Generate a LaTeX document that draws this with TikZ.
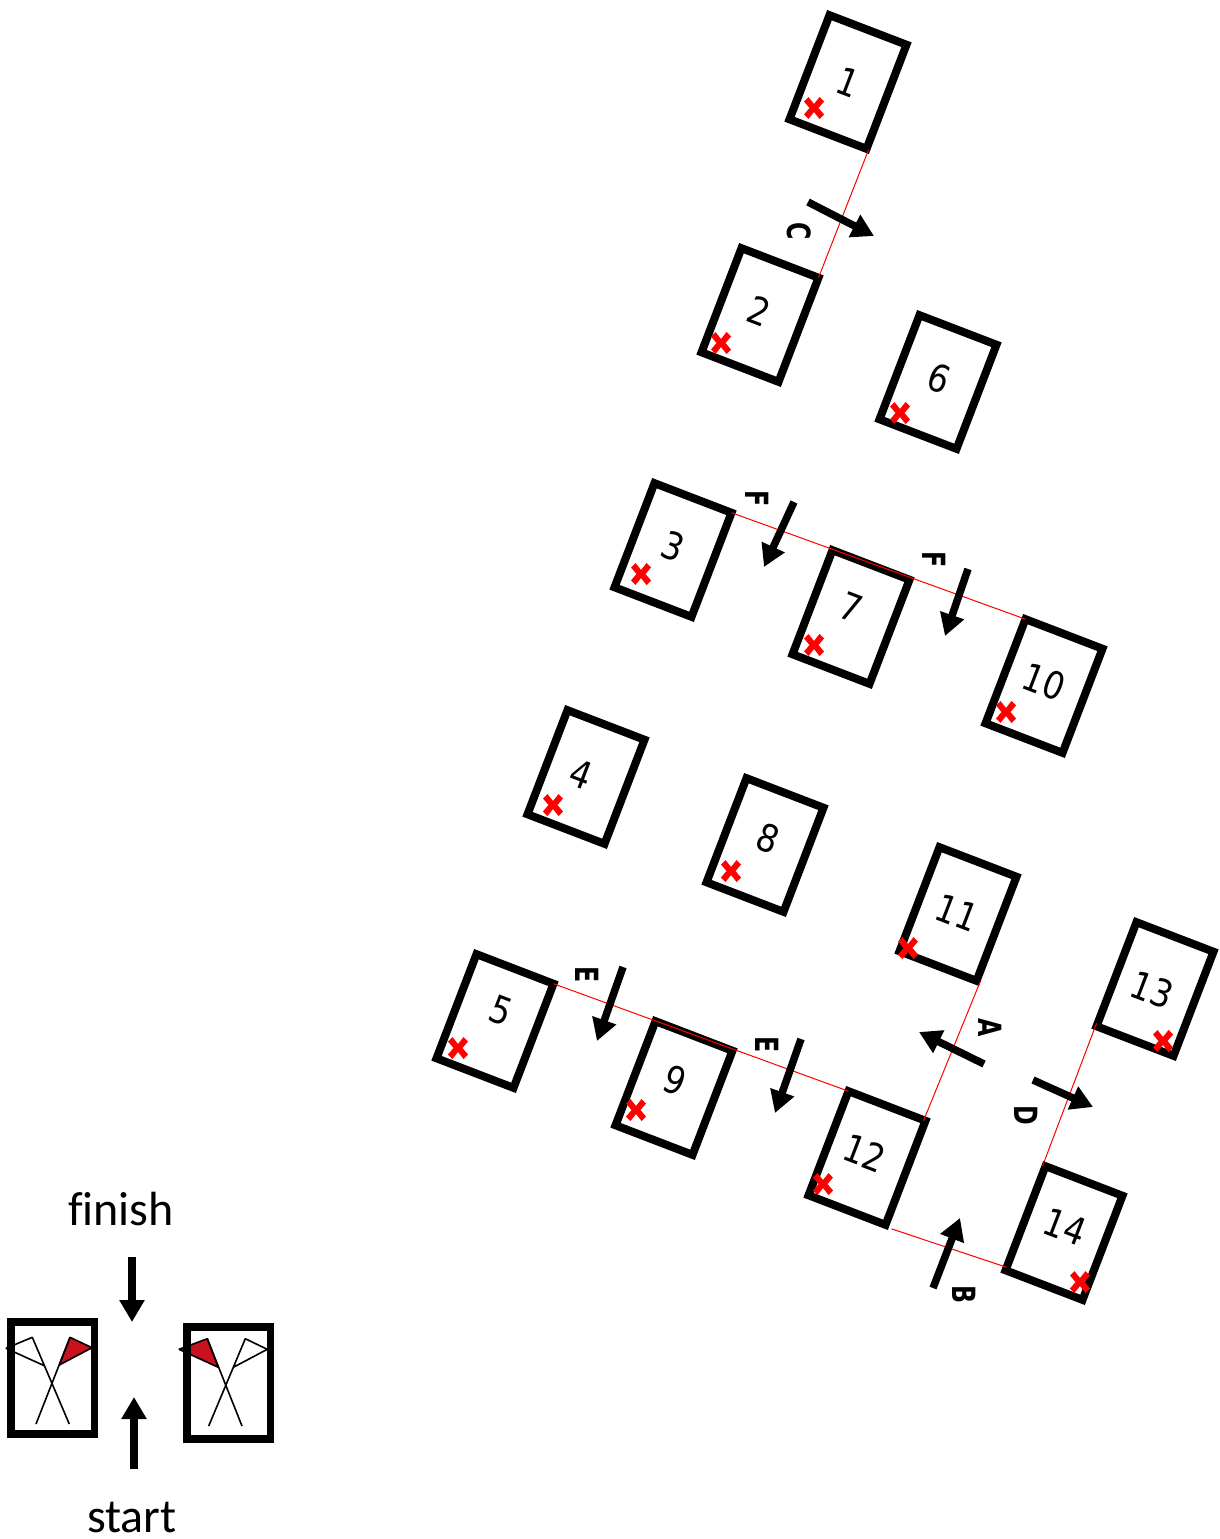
\documentclass[tikz,border=0pt]{standalone}
\usepackage{fontspec}
\setmainfont{DejaVu Sans}
\newfontfamily\capfont{Carlito}
\usetikzlibrary{arrows.meta}
\definecolor{flagred}{RGB}{200,18,30}
\tikzset{
  rbox/.style={draw=black,line width=8pt,rectangle,minimum width=82.5pt,minimum height=111.5pt,inner sep=0pt,outer sep=0pt,rotate=-21},
  digit/.style={inner sep=0pt,rotate=-21,font=\fontsize{38}{38}\selectfont,text=black},
  plainbox/.style={draw=black,line width=7.5pt,rectangle,minimum width=83.5pt,minimum height=112pt,inner sep=0pt,outer sep=0pt},
  redline/.style={draw=red,line width=1pt},
  bigarrow/.style={draw=black,line width=7.5pt,-{Triangle[length=22pt,width=24pt]}},
  letter/.style={inner sep=0pt,font=\fontsize{32}{32}\selectfont\bfseries,rotate=-90},
  caption/.style={inner sep=0pt,font=\capfont\fontsize{48}{48}\selectfont},
  xmark/.style={fill=red,draw=none},
  pole/.style={draw=black,line width=1.6pt,line join=bevel},
}
\newcommand{\redx}[1]{\fill[xmark,shift={#1}] (-10,-6.5) -- (-5.5,-11) -- (0,-4) -- (5.5,-11) -- (10,-6.5) -- (4.5,0) -- (10,6.5) -- (5.5,11) -- (0,4) -- (-5.5,11) -- (-10,6.5) -- (-4.5,0) -- cycle;}
\newcommand{\sq}[1]{\scalebox{.74}[1]{#1}}
\newcommand{\nq}[1]{\scalebox{.86}[1]{#1}}
\begin{document}
\begin{tikzpicture}[x=1pt,y=-1pt]
\useasboundingbox (0,0) rectangle (1219,1539);
\fill[white] (0,0) rectangle (1219,1539);
% numbered boxes
\node[rbox] (b1) at (848,82) {};
\node[rbox] (b2) at (760,315) {};
\node[rbox] (b3) at (673,550) {};
\node[rbox] (b4) at (586,777) {};
\node[rbox] (b5) at (495,1021) {};
\node[rbox] (b6) at (938,382) {};
\node[rbox] (b7) at (851,617) {};
\node[rbox] (b8) at (765,845) {};
\node[rbox] (b9) at (674,1088) {};
\node[rbox] (b10) at (1044,686) {};
\node[rbox] (b11) at (958,914) {};
\node[rbox] (b12) at (867,1158) {};
\node[rbox] (b13) at (1155,989) {};
\node[rbox] (b14) at (1064,1233) {};
% digits
\node[digit] (n1) at (848,82) {\nq{1}};
\node[digit] (n2) at (759,311) {\nq{2}};
\node[digit] (n3) at (673,546) {\nq{3}};
\node[digit] (n4) at (581,774) {\nq{4}};
\node[digit] (n5) at (501,1011) {\nq{5}};
\node[digit] (n6) at (939,378) {\nq{6}};
\node[digit] (n7) at (851,607) {\nq{7}};
\node[digit] (n8) at (768,838) {\nq{8}};
\node[digit] (n9) at (675,1080) {\nq{9}};
\node[digit] (n10) at (1044,682) {\nq{10}};
\node[digit] (n11) at (957,913) {\nq{11}};
\node[digit] (n12) at (865,1153) {\nq{12}};
\node[digit] (n13) at (1152,990) {\nq{13}};
\node[digit] (n14) at (1065,1227) {\nq{14}};
% red crosses
\redx{(814,108)}
\redx{(721,343)}
\redx{(641,574)}
\redx{(553,805)}
\redx{(458,1048)}
\redx{(900,413)}
\redx{(814,645)}
\redx{(731,871)}
\redx{(636,1110)}
\redx{(1006,712)}
\redx{(908,948)}
\redx{(823,1184)}
\redx{(1163,1041)}
\redx{(1080,1282)}
% red connectors
\draw[redline] ([shift={(2,1)}]b1.south east) -- (b2.north east);
\draw[redline] (b3.north east) -- (b10.north west);
\draw[redline] (b5.north east) -- (b12.north west);
\draw[redline] ([shift={(4,0)}]b11.south east) -- ([shift={(-2,0)}]b12.north east);
\draw[redline] ([shift={(0,-3)}]b13.south west) -- ([shift={(-3,0)}]b14.north west);
\draw[redline] ([shift={(6,4)}]b12.south east) -- ([shift={(1,-3)}]b14.south west);
% arrow ends
\coordinate (c1) at (808,202); \coordinate (c2) at (874,236);
\coordinate (f1) at (794,502); \coordinate (f2) at (764,567);
\coordinate (g1) at (968,569); \coordinate (g2) at (945,636);
\coordinate (e1) at (623,967); \coordinate (e2) at (597,1041);
\coordinate (h1) at (801,1039); \coordinate (h2) at (775,1113);
\coordinate (a1) at (984,1064); \coordinate (a2) at (919,1032);
\coordinate (d1) at (1033,1080); \coordinate (d2) at (1093,1107);
\coordinate (k1) at (933,1288); \coordinate (k2) at (960,1218);
\coordinate (m1) at (132,1257); \coordinate (m2) at (132,1322);
\coordinate (s1) at (134,1469); \coordinate (s2) at (134,1397);
\draw[bigarrow] (c1) -- (c2);
\draw[bigarrow] (f1) -- (f2);
\draw[bigarrow] (g1) -- (g2);
\draw[bigarrow] (e1) -- (e2);
\draw[bigarrow] (h1) -- (h2);
\draw[bigarrow] (a1) -- (a2);
\draw[bigarrow] (d1) -- (d2);
\draw[bigarrow] (k1) -- (k2);
\draw[bigarrow,line width=8pt] (m1) -- (m2);
\draw[bigarrow,line width=8pt] (s1) -- (s2);
% letters
\node[letter] (lc) at (799,231) {\sq{C}};
\node[letter] (lf1) at (757,499) {\sq{F}};
\node[letter] (lf2) at (934,560) {\sq{F}};
\node[letter] (le1) at (587,975) {\sq{E}};
\node[letter] (le2) at (767,1045) {\sq{E}};
\node[letter] (la) at (990,1028) {\sq{A}};
\node[letter] (ld) at (1026,1115) {\sq{D}};
\node[letter] (lb) at (964,1295) {\sq{B}};
% captions
\node[caption] (finish) at (121,1209) {f{}\kern0pt inish};
\node[caption] (start) at (132,1517) {start};
% flags
\filldraw[pole,fill=flagred] (70,1337.3) -- (92,1347.7) -- (59.3,1365) -- cycle;
\draw[pole] (69.3,1424) -- (32.3,1337.3) -- (6,1348.3) -- (44.3,1365.7);
\draw[pole] (36,1424) -- (70,1337.3);
\filldraw[pole,fill=flagred] (207.3,1338.7) -- (179,1349.3) -- (218.3,1367.3) -- cycle;
\draw[pole] (242,1426) -- (207.3,1338.7);
\draw[pole] (208.7,1426) -- (245.3,1338.7) -- (267.3,1349.3) -- (233.3,1367.3);
\node[plainbox] (fl) at (52.5,1378) {};
\node[plainbox] (fr) at (228.5,1383) {};
\end{tikzpicture}
\end{document}
